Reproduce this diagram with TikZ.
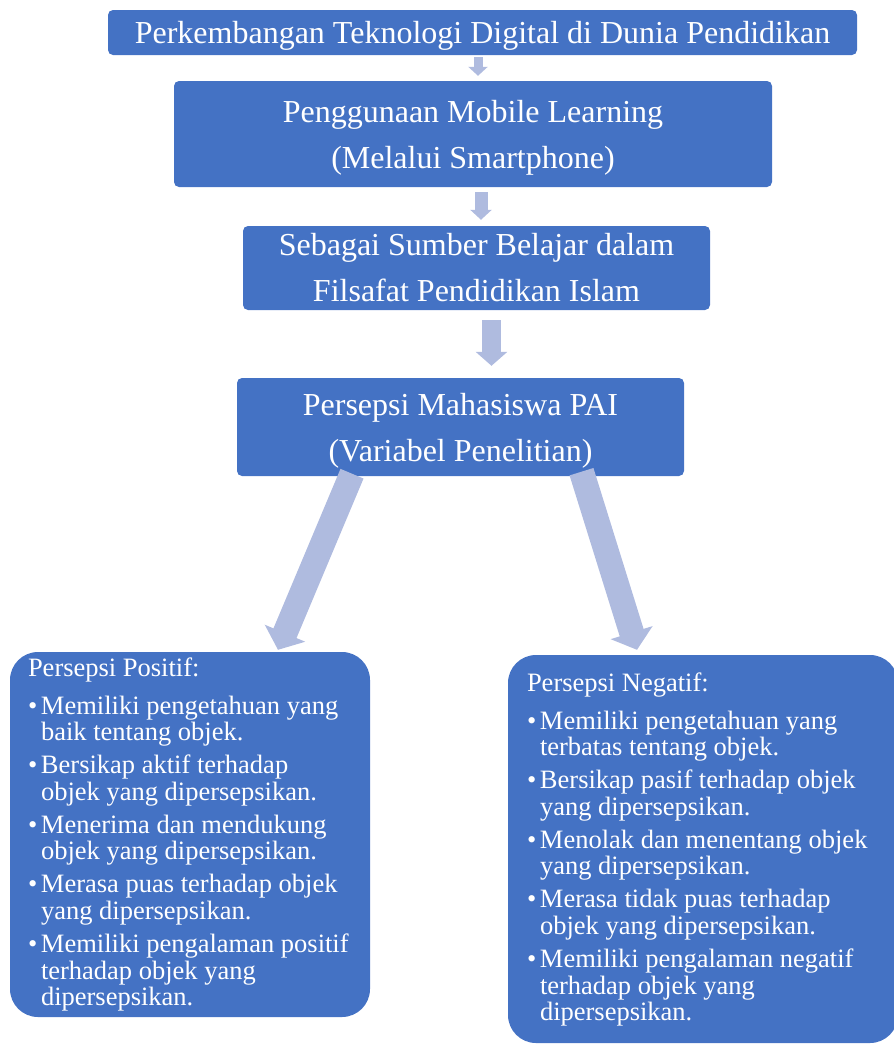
\documentclass[tikz,border=0pt]{standalone}
\usepackage{fontspec}
\setmainfont{Liberation Serif}
\usetikzlibrary{positioning,arrows.meta}
\definecolor{boxblue}{HTML}{4472C4}
\definecolor{arrowblue}{HTML}{AFBBDF}
\newcommand{\lift}{\rule{0pt}{30pt}}
\begin{document}
\begin{tikzpicture}[x=1pt, y=-1pt]

	\tikzset{
	box/.style={fill=boxblue, text=white, rounded corners=5pt, inner sep=0pt, align=center, font=\fontsize{32}{46}\selectfont},
	listbox/.style={fill=boxblue, rounded corners=28pt, inner sep=0pt},
	listtext/.style={text=white, inner sep=0pt, font=\fontsize{26.5}{26.5}\selectfont},
	flow/.style n args={3}{draw=arrowblue, line width=#1, -{Triangle[width=#2,length=#3]}}
	}

	\useasboundingbox (0,0) rectangle (894,1044);

	% Nodes
	\node[box, minimum width=749pt, minimum height=45pt] (tek) at (482.5,32.5) {\rule{0pt}{28pt}Perkembangan Teknologi Digital di Dunia Pendidikan};
	\node[box, minimum width=598pt, minimum height=106pt, below of=tek, node distance=101.5pt, xshift=-9.5pt] (mob) {\lift Penggunaan Mobile Learning\\(Melalui Smartphone)};
	\node[box, minimum width=467pt, minimum height=84pt, below of=mob, node distance=134pt, xshift=3.5pt] (sum) {Sebagai Sumber Belajar dalam\\Filsafat Pendidikan Islam};
	\node[box, minimum width=447pt, minimum height=98pt, below of=sum, node distance=159pt, xshift=-16pt] (per) {\lift Persepsi Mahasiswa PAI\\(Variabel Penelitian)};

	\node[listbox, minimum width=360pt, minimum height=365pt, below of=per, node distance=407.5pt, xshift=-270.5pt] (pos) {};
	\node[listbox, minimum width=390pt, minimum height=388pt, below of=per, node distance=422pt, xshift=242.5pt] (neg) {};

	\node[listtext, anchor=base west] (postext) at ([xshift=18pt, yshift=-25pt]pos.north west) {%
	\begin{tabular}[t]{@{}p{13pt}@{}l@{}}
	\multicolumn{2}{@{}l@{}}{Persepsi Positif:}\\[11pt]
	\textbullet & Memiliki pengetahuan yang\\
	 & baik tentang objek.\\[6.5pt]
	\textbullet & Bersikap aktif terhadap\\
	 & objek yang dipersepsikan.\\[6.5pt]
	\textbullet & Menerima dan mendukung\\
	 & objek yang dipersepsikan.\\[6.5pt]
	\textbullet & Merasa puas terhadap objek\\
	 & yang dipersepsikan.\\[6.5pt]
	\textbullet & Memiliki pengalaman positif\\
	 & terhadap objek yang\\
	 & dipersepsikan.
	\end{tabular}};

	\node[listtext, anchor=base west] (negtext) at ([xshift=19pt, yshift=-37pt]neg.north west) {%
	\begin{tabular}[t]{@{}p{13pt}@{}l@{}}
	\multicolumn{2}{@{}l@{}}{Persepsi Negatif:}\\[11pt]
	\textbullet & Memiliki pengetahuan yang\\
	 & terbatas tentang objek.\\[6.5pt]
	\textbullet & Bersikap pasif terhadap objek\\
	 & yang dipersepsikan.\\[6.5pt]
	\textbullet & Menolak dan menentang objek\\
	 & yang dipersepsikan.\\[6.5pt]
	\textbullet & Merasa tidak puas terhadap\\
	 & objek yang dipersepsikan.\\[6.5pt]
	\textbullet & Memiliki pengalaman negatif\\
	 & terhadap objek yang\\
	 & dipersepsikan.
	\end{tabular}};

	% Arrows
	\draw[flow={9pt}{19pt}{9pt}, shorten <=2pt, shorten >=5pt] ([xshift=-4.5pt]tek.south) -- ([xshift=5pt]mob.north);
	\draw[flow={13pt}{21pt}{10pt}, shorten <=5pt, shorten >=6pt] ([xshift=8pt]mob.south) -- ([xshift=4.5pt]sum.north);
	\draw[flow={19pt}{31pt}{14pt}, shorten <=10pt, shorten >=12pt] ([xshift=15pt]sum.south) -- ([xshift=31pt]per.north);
	\draw[flow={25pt}{43pt}{18pt}] ([xshift=-108.5pt, yshift=2.5pt]per.south) -- ([xshift=88pt, yshift=2pt]pos.north);
	\draw[flow={25pt}{43pt}{18pt}] ([xshift=121pt, yshift=4.5pt]per.south) -- ([xshift=-66pt, yshift=5pt]neg.north);

\end{tikzpicture}
\end{document}
